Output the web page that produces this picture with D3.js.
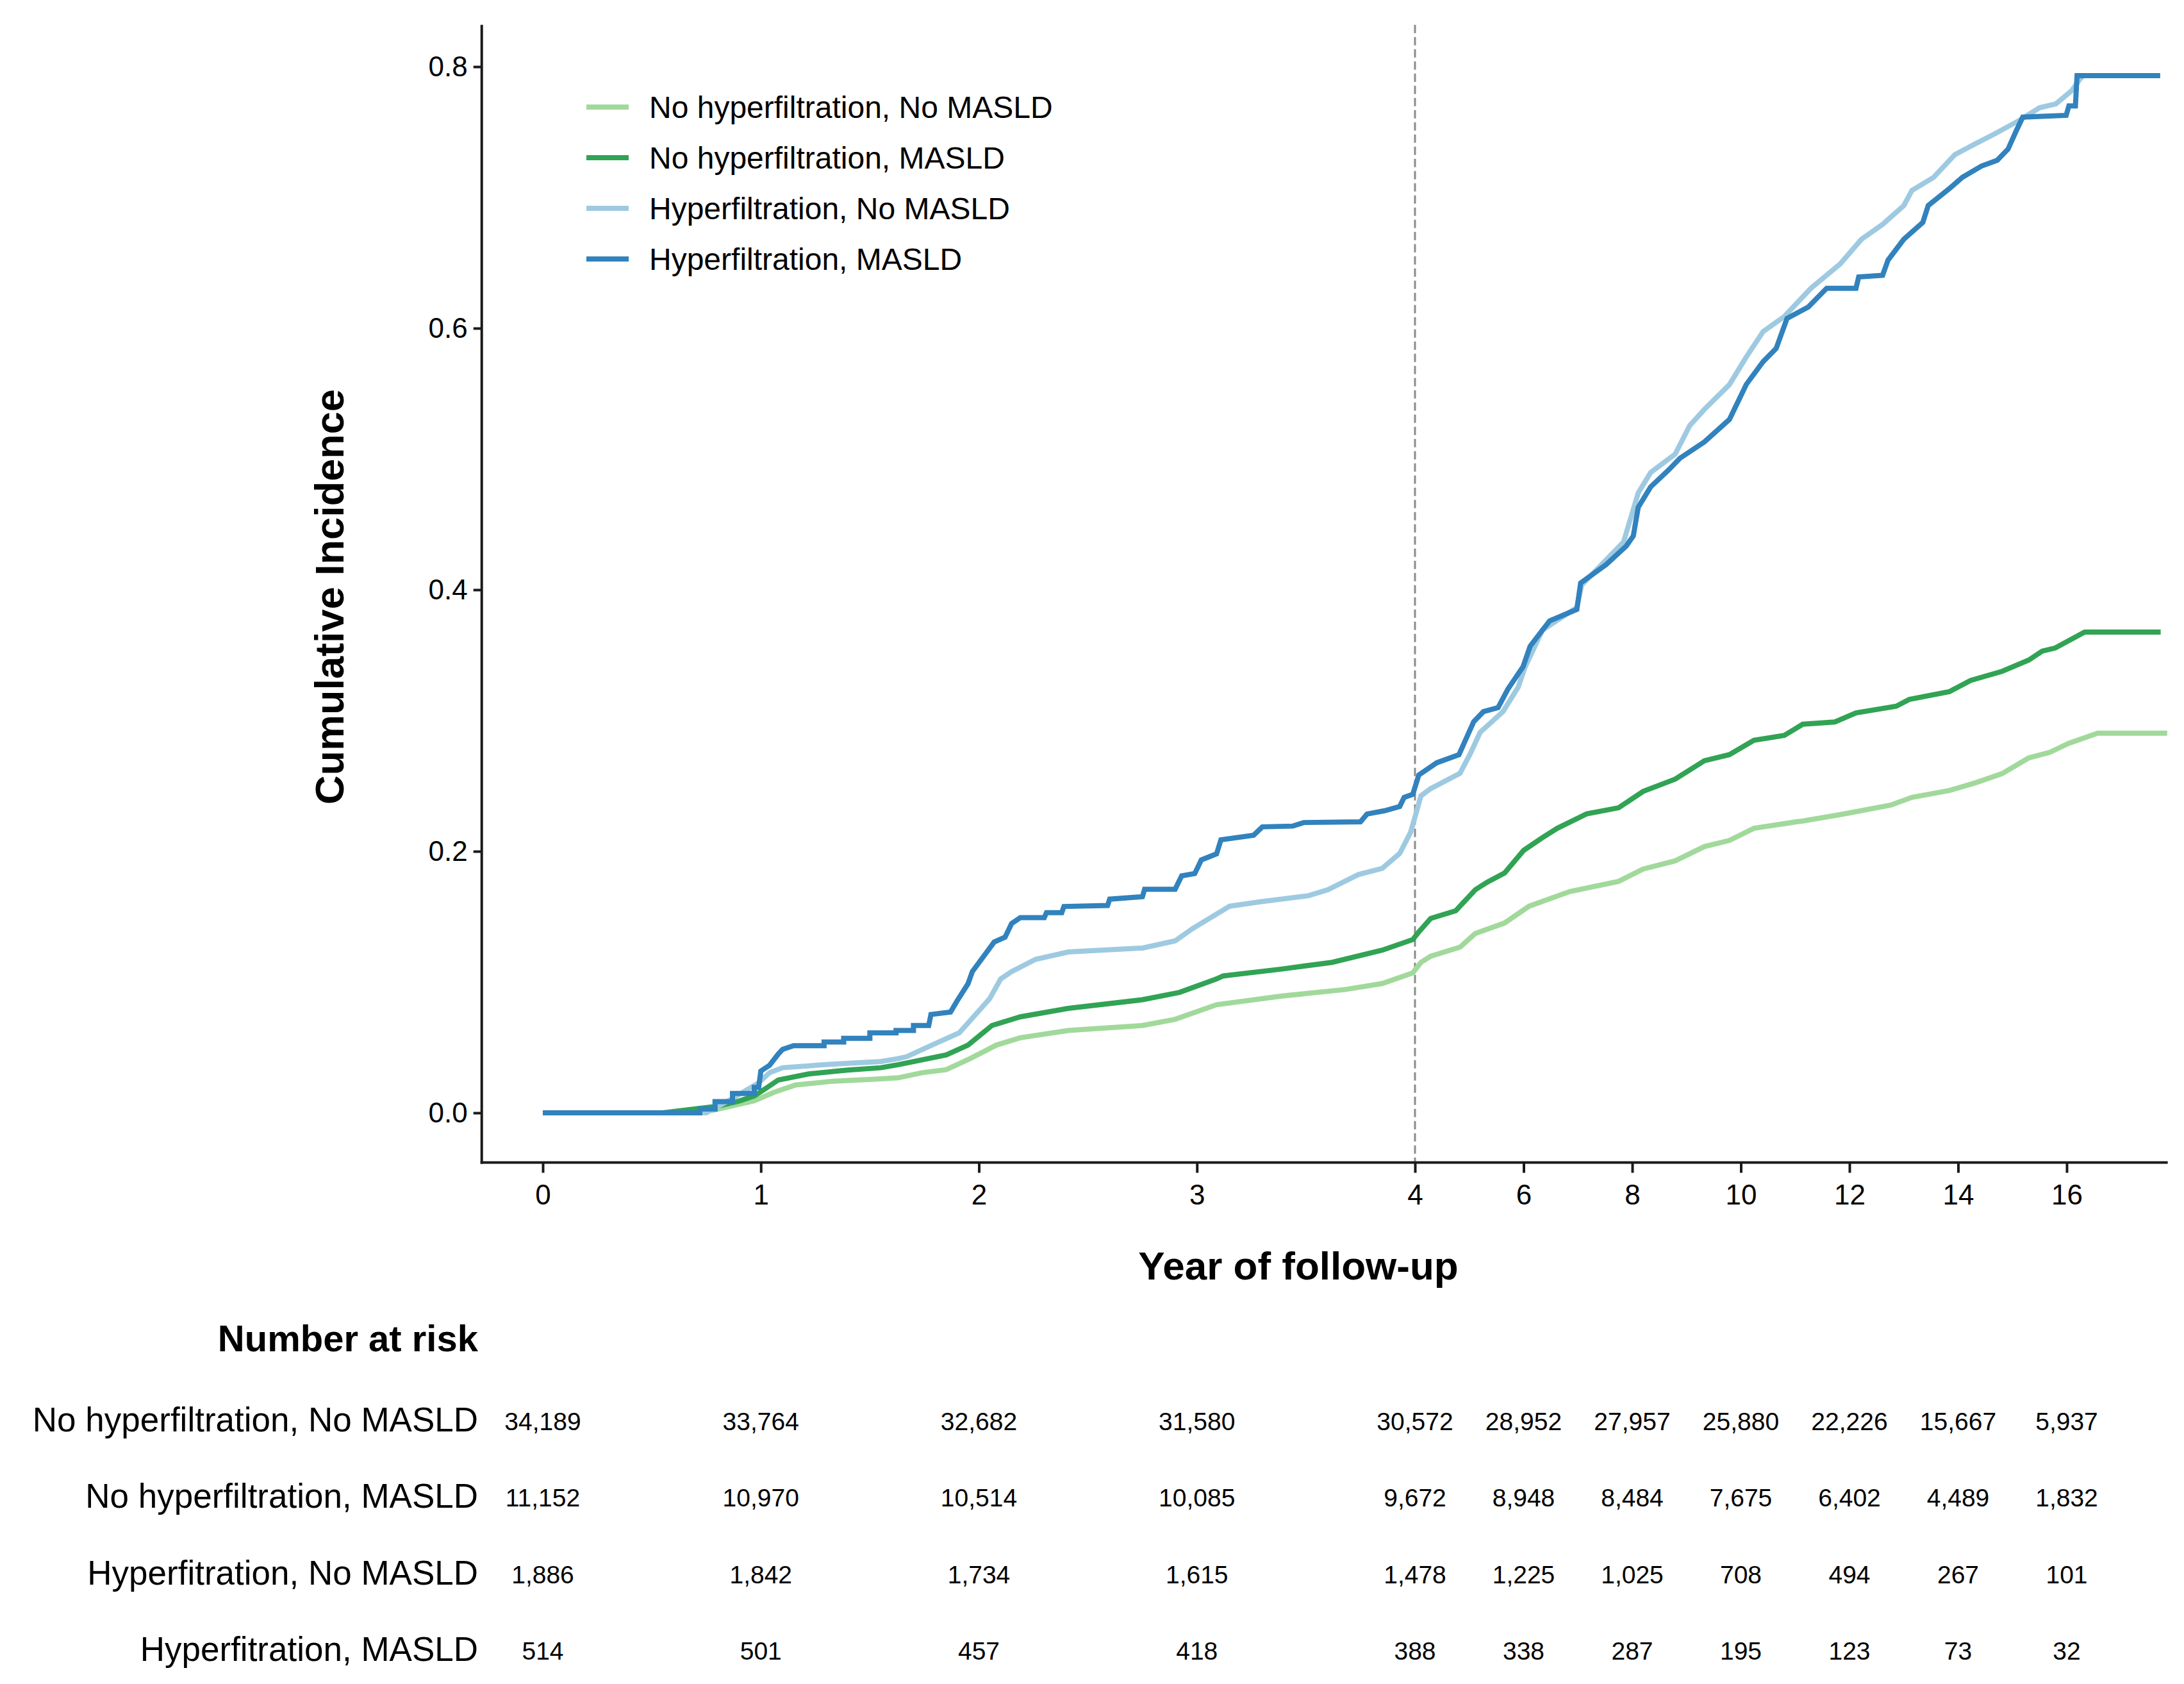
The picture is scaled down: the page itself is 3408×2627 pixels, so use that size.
<!DOCTYPE html>
<html>
<head>
<meta charset="utf-8">
<script src="https://cdn.jsdelivr.net/npm/d3@7"></script>
<style>
  html, body { margin: 0; padding: 0; background: #ffffff; }
  svg { display: block; font-family: "Liberation Sans", Arial, Helvetica, sans-serif; }
</style>
</head>
<body>
<svg id="chart" width="3408" height="2627"></svg>
<script>
// ---------------- data ----------------
const groups = [
  "No hyperfiltration, No MASLD",
  "No hyperfiltration, MASLD",
  "Hyperfitration, No MASLD",
  "Hyperfitration, MASLD"
];
const legendLabels = [
  "No hyperfiltration, No MASLD",
  "No hyperfiltration, MASLD",
  "Hyperfiltration, No MASLD",
  "Hyperfiltration, MASLD"
];
const colors = ["#a1d99b", "#31a354", "#9ecae1", "#3182bd"];

const xTicks = [0, 1, 2, 3, 4, 6, 8, 10, 12, 14, 16];
const yTicks = [0, 0.2, 0.4, 0.6, 0.8];
const xAxisExtent = [-0.28, 17.86];
const yAxisExtent = [-0.038, 0.832];
const breakYear = 4;

// [year, cumulative incidence]
const noHypNoMasld = [
  [0,0],[0.6,0],[0.78,0.002],[0.97,0.0092],[1.06,0.0157],[1.16,0.0213],[1.33,0.0242],[1.55,0.026],
  [1.63,0.0268],[1.74,0.0307],[1.85,0.033],[1.96,0.0415],[2.08,0.0518],[2.19,0.0574],[2.41,0.063],
  [2.75,0.0668],[2.9,0.0715],[3.09,0.0827],[3.39,0.0893],[3.68,0.0943],[3.85,0.0989],[3.99,0.107],
  [4.11,0.1151],[4.29,0.1198],[4.83,0.1267],[5.11,0.1371],[5.65,0.1452],[6.1,0.158],[6.85,0.1692],
  [7.75,0.177],[8.2,0.1864],[8.79,0.1927],[9.33,0.2036],[9.79,0.2083],[10.24,0.2176],[11.0,0.2224],
  [11.14,0.2232],[11.88,0.2284],[12.76,0.2353],[13.15,0.2413],[13.84,0.2465],[14.33,0.2525],
  [14.81,0.2594],[15.3,0.2714],[15.69,0.2757],[16.04,0.2826],[16.57,0.2903],[17.85,0.2903]
];
const noHypMasld = [
  [0,0],[0.55,0],[0.8,0.005],[0.9,0.009],[0.97,0.0129],[1.03,0.0195],[1.08,0.0251],[1.22,0.0298],
  [1.39,0.0326],[1.55,0.0345],[1.63,0.0368],[1.67,0.0382],[1.85,0.0443],[1.95,0.0518],[2.06,0.0668],
  [2.19,0.0734],[2.41,0.0799],[2.75,0.0865],[2.92,0.0921],[3.09,0.1024],[3.12,0.1047],[3.39,0.11],
  [3.62,0.1151],[3.85,0.1244],[3.99,0.1325],[4.07,0.1383],[4.29,0.1487],[4.75,0.1545],[5.11,0.1706],
  [5.33,0.1764],[5.65,0.1834],[6.0,0.2007],[6.33,0.21],[6.62,0.2176],[7.16,0.2286],[7.75,0.2333],
  [8.2,0.2458],[8.79,0.2552],[9.33,0.2693],[9.79,0.2739],[10.24,0.2849],[10.8,0.2886],[11.14,0.2972],
  [11.73,0.2989],[12.12,0.3058],[12.86,0.3109],[13.1,0.3161],[13.84,0.3221],[14.23,0.3307],
  [14.81,0.3376],[15.3,0.3462],[15.55,0.3531],[15.79,0.3555],[16.33,0.3677],[17.73,0.3677]
];
const hypNoMasld = [
  [0,0],[0.75,0],[0.87,0.011],[0.99,0.023],[1.04,0.0307],[1.10,0.0345],[1.33,0.0373],[1.55,0.0392],
  [1.63,0.0415],[1.67,0.043],[1.76,0.0499],[1.91,0.0612],[1.96,0.0705],[2.05,0.0874],[2.10,0.1024],
  [2.15,0.108],[2.26,0.1174],[2.41,0.123],[2.75,0.126],[2.90,0.1315],[2.98,0.1409],[3.15,0.158],
  [3.29,0.1614],[3.51,0.166],[3.60,0.1706],[3.74,0.1822],[3.85,0.187],[3.93,0.1984],[3.98,0.2146],
  [4.0,0.2262],[4.11,0.2424],[4.29,0.248],[4.83,0.2597],[5.02,0.2748],[5.2,0.291],[5.62,0.3068],
  [5.9,0.3255],[6.03,0.3412],[6.35,0.3693],[6.98,0.3865],[7.07,0.4037],[7.84,0.4365],[8.11,0.474],
  [8.34,0.4897],[8.79,0.5037],[9.06,0.5256],[9.33,0.538],[9.79,0.5569],[10.1,0.578],[10.41,0.5974],
  [10.8,0.609],[11.29,0.6305],[11.83,0.6492],[12.22,0.668],[12.61,0.6794],[13.0,0.6938],[13.15,0.7053],
  [13.55,0.7154],[13.94,0.7327],[14.33,0.7413],[14.67,0.7485],[15.11,0.7585],[15.5,0.7686],
  [15.8,0.7715],[16.09,0.7816],[16.24,0.7902],[16.3,0.7931],[17.72,0.7931]
];
const hypMasld = [
  [0,0],[0.72,0],[0.72,0.003],[0.79,0.003],[0.79,0.0086],[0.87,0.0086],[0.87,0.0148],[0.97,0.0148],
  [0.97,0.0195],[0.99,0.0195],[1.0,0.032],[1.04,0.0364],[1.08,0.045],[1.10,0.0485],[1.15,0.0514],
  [1.29,0.0514],[1.29,0.0542],[1.38,0.0542],[1.38,0.057],[1.50,0.057],[1.50,0.0611],[1.62,0.0611],
  [1.62,0.063],[1.70,0.063],[1.70,0.0668],[1.77,0.0668],[1.78,0.0752],[1.87,0.0771],[1.90,0.0856],
  [1.95,0.0987],[1.97,0.108],[2.02,0.1193],[2.07,0.1306],[2.12,0.1343],[2.15,0.1447],[2.19,0.1493],
  [2.30,0.1493],[2.31,0.1531],[2.38,0.1531],[2.39,0.1578],[2.59,0.1586],[2.60,0.1634],[2.75,0.1653],
  [2.76,0.1709],[2.90,0.1709],[2.93,0.1812],[2.99,0.183],[3.02,0.1934],[3.09,0.198],[3.11,0.2088],
  [3.26,0.2123],[3.30,0.2187],[3.44,0.2193],[3.49,0.222],[3.75,0.2225],[3.78,0.2285],[3.86,0.231],
  [3.93,0.2343],[3.95,0.2412],[3.99,0.2436],[4.07,0.2583],[4.4,0.2677],[4.81,0.2739],[5.08,0.299],
  [5.26,0.3068],[5.53,0.3099],[5.71,0.324],[5.99,0.3412],[6.12,0.3568],[6.35,0.3693],[6.48,0.3762],
  [6.98,0.3849],[7.05,0.4052],[7.52,0.4193],[7.89,0.4334],[8.02,0.4412],[8.11,0.463],[8.34,0.4787],
  [8.66,0.4912],[8.88,0.5006],[9.33,0.5131],[9.79,0.5303],[10.1,0.557],[10.41,0.5744],[10.65,0.5845],
  [10.85,0.6075],[11.24,0.6162],[11.58,0.6305],[12.12,0.6305],[12.17,0.6392],[12.61,0.6405],
  [12.71,0.6521],[13.0,0.668],[13.35,0.6809],[13.45,0.6938],[13.84,0.7068],[14.08,0.7154],
  [14.43,0.724],[14.72,0.7284],[14.92,0.737],[15.06,0.75],[15.19,0.7614],[15.99,0.7628],[16.04,0.77],
  [16.16,0.77],[16.19,0.7931],[17.72,0.7931]
];
const seriesData = [noHypNoMasld, noHypMasld, hypNoMasld, hypMasld];

// Number at risk
const riskTimes = [0, 1, 2, 3, 4, 6, 8, 10, 12, 14, 16];
const riskNoHypNoMasld = [34189, 33764, 32682, 31580, 30572, 28952, 27957, 25880, 22226, 15667, 5937];
const riskNoHypMasld   = [11152, 10970, 10514, 10085, 9672, 8948, 8484, 7675, 6402, 4489, 1832];
const riskHypNoMasld   = [1886, 1842, 1734, 1615, 1478, 1225, 1025, 708, 494, 267, 101];
const riskHypMasld     = [514, 501, 457, 418, 388, 338, 287, 195, 123, 73, 32];
const riskRows = [riskNoHypNoMasld, riskNoHypMasld, riskHypNoMasld, riskHypMasld];

// ---------------- drawing ----------------
const svg = d3.select("#chart");

// piecewise x scale: years 0-4 wide, 4-16 compressed
const x = d3.scaleLinear().domain([0, 4, 16]).range([847, 2208, 3225]);
const y = d3.scaleLinear().domain([0, 0.8]).range([1736, 104]);

const axisColor = "#1a1a1a";

// dashed vertical line at year 4
svg.append("line")
  .attr("x1", x(breakYear)).attr("x2", x(breakYear))
  .attr("y1", y(yAxisExtent[1])).attr("y2", y(yAxisExtent[0]))
  .attr("stroke", "#8c8c8c").attr("stroke-width", 3)
  .attr("stroke-dasharray", "13,6");

// curves
const line = d3.line().x(d => x(d[0])).y(d => y(d[1])).curve(d3.curveLinear);
svg.append("g").selectAll("path")
  .data(seriesData)
  .join("path")
  .attr("d", line)
  .attr("fill", "none")
  .attr("stroke", (d, i) => colors[i])
  .attr("stroke-width", 8)
  .attr("stroke-linejoin", "miter")
  .attr("stroke-linecap", "butt");

// x axis
const xAxisG = svg.append("g").attr("transform", `translate(0,${y(yAxisExtent[0])})`)
  .call(d3.axisBottom(x).tickValues(xTicks).tickSize(16).tickPadding(18).tickFormat(d3.format("d")));
xAxisG.select(".domain").remove();
xAxisG.append("line")
  .attr("x1", x(xAxisExtent[0]) - 2).attr("x2", x(xAxisExtent[1]))
  .attr("y1", 0).attr("y2", 0)
  .attr("stroke", axisColor).attr("stroke-width", 4);
xAxisG.selectAll(".tick line").attr("stroke", axisColor).attr("stroke-width", 4);
xAxisG.selectAll(".tick text").attr("fill", "#000").attr("font-size", 44)
  .attr("font-family", "Liberation Sans, Arial, sans-serif");

// y axis
const yAxisG = svg.append("g").attr("transform", `translate(${x(xAxisExtent[0])},0)`)
  .call(d3.axisLeft(y).tickValues(yTicks).tickSize(13).tickPadding(9).tickFormat(d3.format(".1f")));
yAxisG.select(".domain").remove();
yAxisG.append("line")
  .attr("x1", 0).attr("x2", 0)
  .attr("y1", y(yAxisExtent[1])).attr("y2", y(yAxisExtent[0]) + 2)
  .attr("stroke", axisColor).attr("stroke-width", 4);
yAxisG.selectAll(".tick line").attr("stroke", axisColor).attr("stroke-width", 4);
yAxisG.selectAll(".tick text").attr("fill", "#000").attr("font-size", 44)
  .attr("font-family", "Liberation Sans, Arial, sans-serif");

// axis titles
svg.append("text")
  .attr("transform", `translate(536,${(y(yAxisExtent[0]) + y(yAxisExtent[1])) / 2 + 5}) rotate(-90)`)
  .attr("text-anchor", "middle")
  .attr("font-size", 63).attr("font-weight", "bold").attr("fill", "#000")
  .text("Cumulative Incidence");

svg.append("text")
  .attr("x", 2026).attr("y", 1996)
  .attr("text-anchor", "middle")
  .attr("font-size", 62).attr("font-weight", "bold").attr("fill", "#000")
  .text("Year of follow-up");

// legend
const legend = svg.append("g").attr("transform", "translate(915,167)");
const legItems = legend.selectAll("g").data(legendLabels).join("g")
  .attr("transform", (d, i) => `translate(0,${i * 79})`);
legItems.append("line")
  .attr("x1", 0).attr("x2", 66).attr("y1", 0).attr("y2", 0)
  .attr("stroke", (d, i) => colors[i]).attr("stroke-width", 8);
legItems.append("text")
  .attr("x", 98).attr("y", 0).attr("dy", "0.35em")
  .attr("font-size", 48).attr("fill", "#000")
  .text(d => d);

// number at risk table
svg.append("text")
  .attr("x", 746).attr("y", 2108)
  .attr("text-anchor", "end")
  .attr("font-size", 58).attr("font-weight", "bold").attr("fill", "#000")
  .text("Number at risk");

const rowY = d3.scalePoint().domain(d3.range(groups.length)).range([2233, 2591]);
const fmt = d3.format(",");
const rows = svg.append("g").selectAll("g").data(riskRows).join("g")
  .attr("transform", (d, i) => `translate(0,${rowY(i)})`);
rows.append("text")
  .attr("x", 746).attr("y", 0)
  .attr("text-anchor", "end")
  .attr("font-size", 53).attr("fill", "#000")
  .text((d, i) => groups[i]);
rows.selectAll("text.num").data(d => d).join("text")
  .attr("class", "num")
  .attr("x", (d, j) => x(riskTimes[j]))
  .attr("y", -2)
  .attr("text-anchor", "middle")
  .attr("font-size", 39).attr("fill", "#000")
  .text(d => fmt(d));
</script>
</body>
</html>
